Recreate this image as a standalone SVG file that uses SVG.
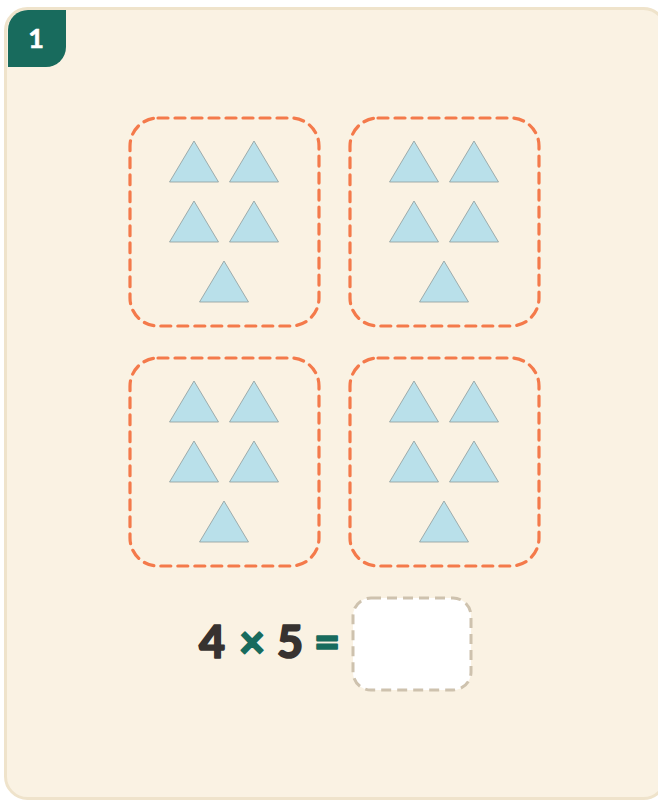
<svg xmlns="http://www.w3.org/2000/svg" width="658" height="800" viewBox="0 0 658 800">
<defs>
<style>
.card{fill:#faf2e3;stroke:#efe3cb;stroke-width:3}
.grp{fill:none;stroke:#f47a4b;stroke-width:3.2;stroke-dasharray:10 7;stroke-linecap:round}
.tri{fill:#b9e0ea;stroke:#8e9c9c;stroke-width:0.8}
.eq{font-family:Lato,"Open Sans",sans-serif;font-weight:900;font-size:45px;text-anchor:middle;stroke-width:1.6;stroke-linejoin:round}
.ans{fill:#ffffff;stroke:#cec2ae;stroke-width:3;stroke-dasharray:10 6}
</style>
<g id="five">
<polygon class="tri" points="194,141 218.5,182 169.5,182"/>
<polygon class="tri" points="254,141 278.5,182 229.5,182"/>
<polygon class="tri" points="194,201 218.5,242 169.5,242"/>
<polygon class="tri" points="254,201 278.5,242 229.5,242"/>
<polygon class="tri" points="224,261 248.5,302 199.5,302"/>
</g>
</defs>
<rect class="card" x="5.5" y="8.5" width="660" height="790" rx="22"/>
<g id="badge">
<path d="M8,30 A20,20 0 0 1 28,10 L66,10 L66,47 A20,20 0 0 1 46,67 L8,67 Z" fill="#186b5d"/>
<text x="36" y="48" font-family="Lato,'Open Sans',sans-serif" font-weight="700" font-size="27" fill="#ffffff" stroke="#ffffff" stroke-width="0.6" text-anchor="middle">1</text>
</g>
<g id="group1">
<rect class="grp" x="130" y="118" width="189" height="208" rx="28"/>
<use href="#five"/>
</g>
<g id="group2">
<rect class="grp" x="350" y="118" width="189" height="208" rx="28"/>
<use href="#five" x="220"/>
</g>
<g id="group3">
<rect class="grp" x="130" y="358" width="189" height="208" rx="28"/>
<use href="#five" y="240"/>
</g>
<g id="group4">
<rect class="grp" x="350" y="358" width="189" height="208" rx="28"/>
<use href="#five" x="220" y="240"/>
</g>
<g id="equation">
<text class="eq" x="212" y="658" fill="#373230" stroke="#373230">4</text>
<text class="eq" x="252" y="658" fill="#186b5d" stroke="#186b5d">×</text>
<text class="eq" x="290" y="658" fill="#373230" stroke="#373230">5</text>
<text class="eq" x="327" y="658" fill="#186b5d" stroke="#186b5d">=</text>
</g>
<g id="answer">
<rect class="ans" x="353" y="598" width="118" height="92" rx="18"/>
</g>
</svg>
